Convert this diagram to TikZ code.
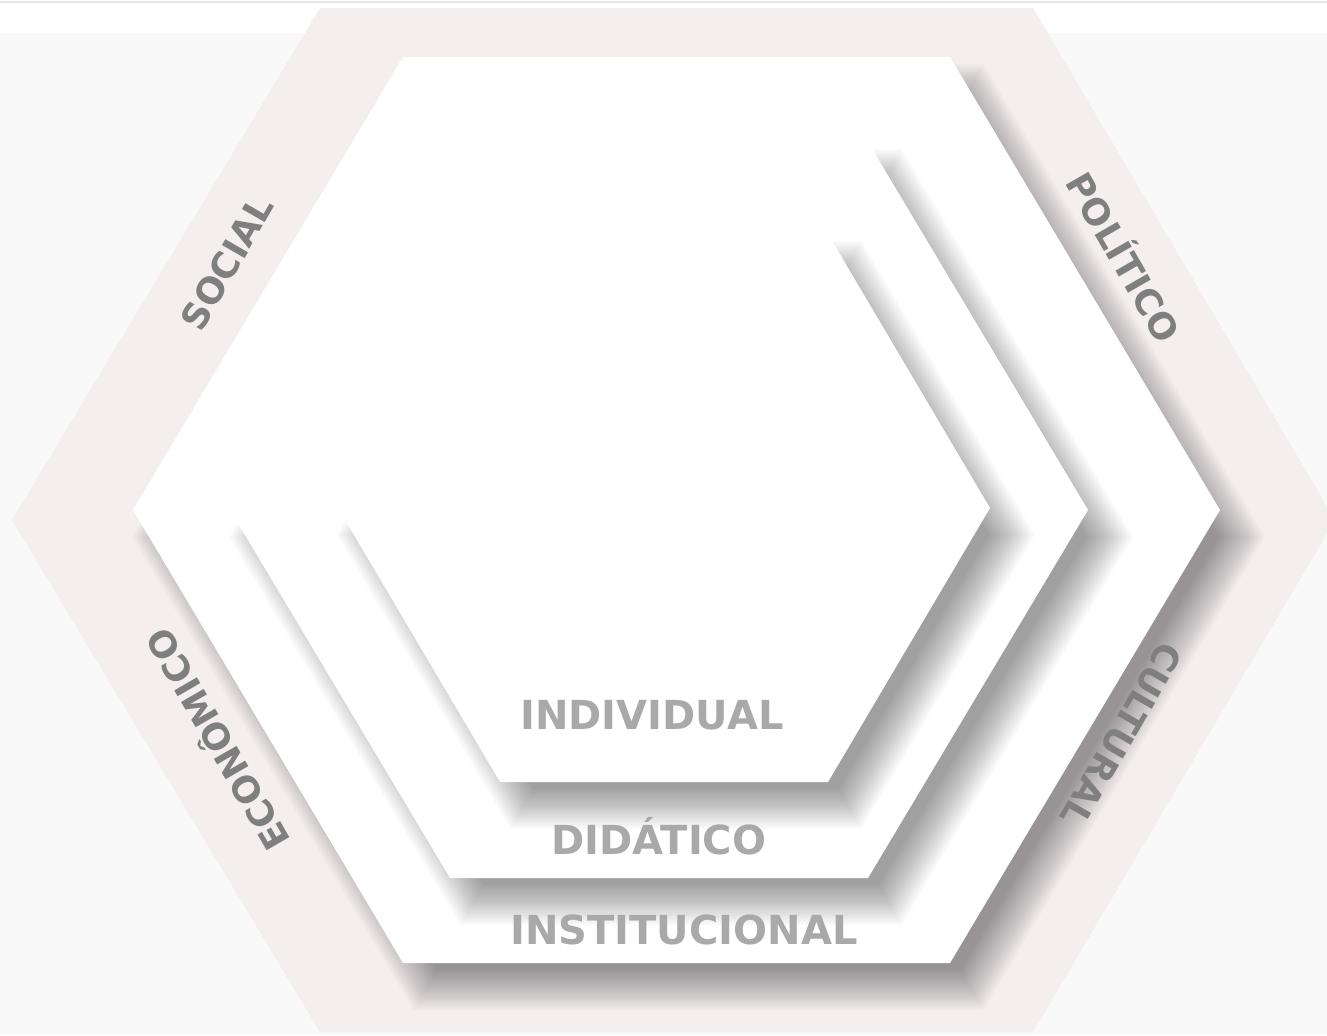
\documentclass[tikz,border=0pt]{standalone}
\usepackage{fontspec}
\setmainfont{DejaVu Sans}

\definecolor{pinkhex}{HTML}{F4EEEF}
\definecolor{pagebg}{HTML}{F9F9F9}
\definecolor{sidetext}{HTML}{7F7F7F}
\definecolor{leveltext}{HTML}{A9A9A9}

% #1 style, #2 cx, #3 cy, #4 half top, #5 half width, #6 half height
\newcommand\hexfill[6]{\fill[#1] ({#2-(#4)},{#3-(#6)}) -- ({#2+(#4)},{#3-(#6)}) -- ({#2+(#5)},#3)
  -- ({#2+(#4)},{#3+(#6)}) -- ({#2-(#4)},{#3+(#6)}) -- ({#2-(#5)},#3) -- cycle;}
% soft shadow, shifted to the lower right
\newcommand\hexshadow[5]{\foreach \e in {-20,-18,...,20}
  {\hexfill{shadowlayer}{#1+22}{#2+27}{#3+0.577*(\e)}{#4+1.155*(\e)}{#5+(\e)}}}

\tikzset{
  shadowlayer/.style={black, opacity=0.021},
  hexface/.style={white},
  sidelabel/.style={text=sidetext, font=\bfseries\fontsize{18}{18}\selectfont},
  levellabel/.style={text=leveltext, font=\bfseries\fontsize{20}{20}\selectfont},
}

\begin{document}
\begin{tikzpicture}[x=0.5pt, y=-0.5pt]
    \useasboundingbox (0,0) rectangle (1327,1035);
    \clip (0,0) rectangle (1327,1035);
    \fill[pagebg] (0,33) rectangle (1327,1035);
    \draw[gray!20, line width=1pt] (0,2) -- (1327,2);

    % contexts
    \fill[pinkhex] (320,8) -- (1033,8) -- (1335,520) -- (1033,1032) -- (320,1032) -- (12,520) -- cycle;

    % levels
    \hexshadow{676.5}{510}{273.5}{543.5}{453}
    \hexfill{hexface}{676.5}{510}{273.5}{543.5}{453}
    \hexshadow{659}{510}{209}{429}{368}
    \hexfill{hexface}{659}{510}{209}{429}{368}
    \hexshadow{664}{508}{164}{326}{274}
    \hexfill{hexface}{664}{508}{164}{326}{274}

    \node[levellabel] (individual) at (652,715) {INDIVIDUAL};
    \node[levellabel] (didatico) at (659,836) {DIDÁTICO};
    \node[levellabel] (institucional) at (684,930) {INSTITUCIONAL};

    \node[sidelabel, rotate=60] (social) at (227,263) {SOCIAL};
    \node[sidelabel, rotate=-60] (politico) at (1126,256) {POLÍTICO};
    \node[sidelabel, rotate=-120] (cultural) at (1122,735) {CULTURAL};
    \node[sidelabel, rotate=120] (economico) at (215,741) {ECONÔMICO};
\end{tikzpicture}
\end{document}
